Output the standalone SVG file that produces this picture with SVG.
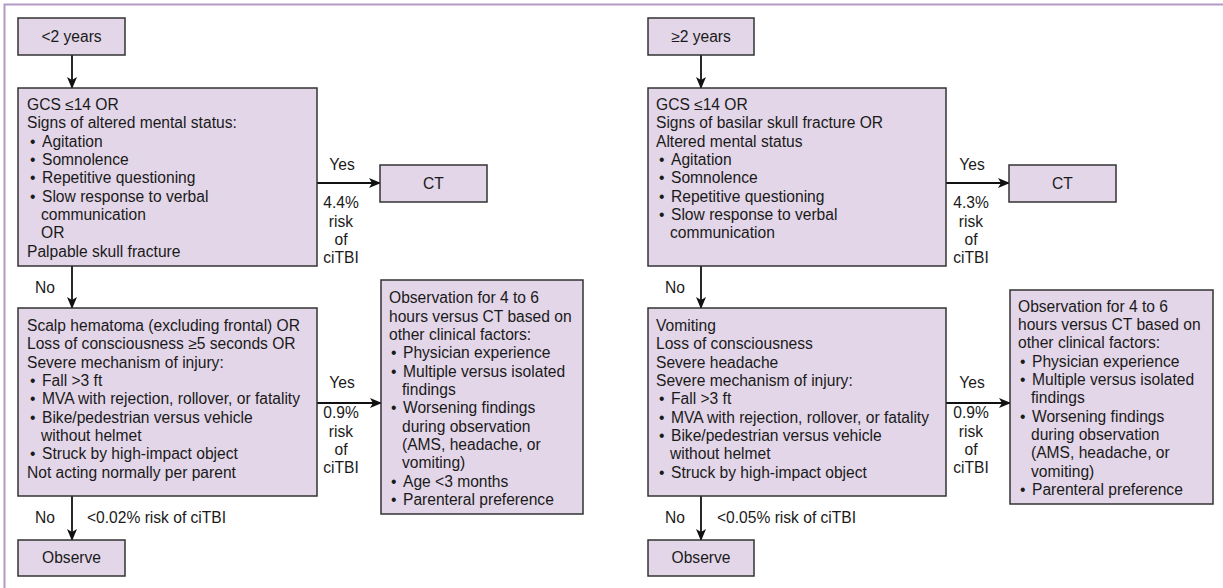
<svg xmlns="http://www.w3.org/2000/svg" width="1223" height="588" viewBox="0 0 1223 588">
<style>
.frame{stroke:#b49ac6;stroke-width:2;fill:none}
.box{fill:#e3d6e8;stroke:#333;stroke-width:1.5}
.t{font-family:"Liberation Sans",Arial,sans-serif;font-size:15.6px;fill:#1a1a1a}
.c{text-anchor:middle}
.ln{stroke:#111;stroke-width:1.8;fill:none}
</style>
<defs>
<marker id="ah" markerUnits="userSpaceOnUse" markerWidth="12" markerHeight="12" viewBox="0 0 12 12" refX="11" refY="6" orient="auto">
<path d="M0,1 L12,6 L0,11 L3,6 Z" fill="#111"/>
</marker>
</defs>
<rect width="1223" height="588" fill="#fff"/>
<path class="frame" d="M4.5,588 V4.5 H1223"/>

<g id="connectors">
<line class="ln" x1="72" y1="55" x2="72" y2="88" marker-end="url(#ah)"/>
<line class="ln" x1="317" y1="183" x2="380" y2="183" marker-end="url(#ah)"/>
<line class="ln" x1="72" y1="266" x2="72" y2="308" marker-end="url(#ah)"/>
<line class="ln" x1="317" y1="403" x2="381" y2="403" marker-end="url(#ah)"/>
<line class="ln" x1="72" y1="496" x2="72" y2="540" marker-end="url(#ah)"/>
<text class="t c" x="342" y="170">Yes</text>
<text class="t c" x="341" y="208.3">4.4%</text>
<text class="t c" x="341" y="226.7">risk</text>
<text class="t c" x="341" y="245">of</text>
<text class="t c" x="341" y="263.3">ciTBI</text>
<text class="t" x="35" y="292.7">No</text>
<text class="t c" x="342" y="388">Yes</text>
<text class="t c" x="341" y="418.3">0.9%</text>
<text class="t c" x="341" y="436.7">risk</text>
<text class="t c" x="341" y="455">of</text>
<text class="t c" x="341" y="473.3">ciTBI</text>
<text class="t" x="35" y="523.3">No</text>
<text class="t" x="87" y="523.3">&lt;0.02% risk of ciTBI</text>

<line class="ln" x1="701" y1="55" x2="701" y2="88" marker-end="url(#ah)"/>
<line class="ln" x1="946" y1="183" x2="1009" y2="183" marker-end="url(#ah)"/>
<line class="ln" x1="701" y1="266" x2="701" y2="308" marker-end="url(#ah)"/>
<line class="ln" x1="946" y1="403" x2="1010" y2="403" marker-end="url(#ah)"/>
<line class="ln" x1="701" y1="496" x2="701" y2="540" marker-end="url(#ah)"/>
<text class="t c" x="972" y="170">Yes</text>
<text class="t c" x="971" y="208.3">4.3%</text>
<text class="t c" x="971" y="226.7">risk</text>
<text class="t c" x="971" y="245">of</text>
<text class="t c" x="971" y="263.3">ciTBI</text>
<text class="t" x="665" y="292.7">No</text>
<text class="t c" x="972" y="388">Yes</text>
<text class="t c" x="971" y="418.3">0.9%</text>
<text class="t c" x="971" y="436.7">risk</text>
<text class="t c" x="971" y="455">of</text>
<text class="t c" x="971" y="473.3">ciTBI</text>
<text class="t" x="665" y="523.3">No</text>
<text class="t" x="717" y="523.3">&lt;0.05% risk of ciTBI</text>
</g>

<g id="left-age">
<rect class="box" x="18" y="18" width="107" height="37"/>
<text class="t c" x="71.5" y="41.5">&lt;2 years</text>
</g>

<g id="left-gcs">
<rect class="box" x="18" y="88" width="299" height="178"/>
<text class="t" x="27" y="110">GCS ≤14 OR</text>
<text class="t" x="27" y="128.3">Signs of altered mental status:</text>
<text class="t" x="30" y="146.7">•</text><text class="t" x="42" y="146.7">Agitation</text>
<text class="t" x="30" y="165">•</text><text class="t" x="42" y="165">Somnolence</text>
<text class="t" x="30" y="183.3">•</text><text class="t" x="42" y="183.3">Repetitive questioning</text>
<text class="t" x="30" y="201.7">•</text><text class="t" x="42" y="201.7">Slow response to verbal</text>
<text class="t" x="41" y="220">communication</text>
<text class="t" x="41" y="238.3">OR</text>
<text class="t" x="27" y="256.7">Palpable skull fracture</text>
</g>

<g id="left-ct">
<rect class="box" x="380" y="165" width="107" height="37"/>
<text class="t c" x="433.5" y="189">CT</text>
</g>

<g id="left-scalp">
<rect class="box" x="18" y="308" width="299" height="188"/>
<text class="t" x="27" y="331">Scalp hematoma (excluding frontal) OR</text>
<text class="t" x="27" y="349.3">Loss of consciousness ≥5 seconds OR</text>
<text class="t" x="27" y="367.7">Severe mechanism of injury:</text>
<text class="t" x="30" y="386">•</text><text class="t" x="42" y="386">Fall &gt;3 ft</text>
<text class="t" x="30" y="404.3">•</text><text class="t" x="42" y="404.3">MVA with rejection, rollover, or fatality</text>
<text class="t" x="30" y="422.7">•</text><text class="t" x="42" y="422.7">Bike/pedestrian versus vehicle</text>
<text class="t" x="41" y="441">without helmet</text>
<text class="t" x="30" y="459.3">•</text><text class="t" x="42" y="459.3">Struck by high-impact object</text>
<text class="t" x="27" y="477.7">Not acting normally per parent</text>
</g>

<g id="left-obs">
<rect class="box" x="381" y="280" width="202" height="234"/>
<text class="t" x="389" y="303.3">Observation for 4 to 6</text>
<text class="t" x="389" y="321.7">hours versus CT based on</text>
<text class="t" x="389" y="340">other clinical factors:</text>
<text class="t" x="391" y="358.3">•</text><text class="t" x="403" y="358.3">Physician experience</text>
<text class="t" x="391" y="376.7">•</text><text class="t" x="403" y="376.7">Multiple versus isolated</text>
<text class="t" x="402" y="395">findings</text>
<text class="t" x="391" y="413.3">•</text><text class="t" x="403" y="413.3">Worsening findings</text>
<text class="t" x="402" y="431.7">during observation</text>
<text class="t" x="402" y="450">(AMS, headache, or</text>
<text class="t" x="402" y="468.3">vomiting)</text>
<text class="t" x="391" y="486.7">•</text><text class="t" x="403" y="486.7">Age &lt;3 months</text>
<text class="t" x="391" y="505">•</text><text class="t" x="403" y="505">Parenteral preference</text>
</g>

<g id="left-observe">
<rect class="box" x="18" y="540" width="107" height="36"/>
<text class="t c" x="71.5" y="563">Observe</text>
</g>

<g id="right-age">
<rect class="box" x="648" y="18" width="106" height="37"/>
<text class="t c" x="701" y="41.5">≥2 years</text>
</g>

<g id="right-gcs">
<rect class="box" x="648" y="88" width="298" height="178"/>
<text class="t" x="656" y="110">GCS ≤14 OR</text>
<text class="t" x="656" y="128.3">Signs of basilar skull fracture OR</text>
<text class="t" x="656" y="146.7">Altered mental status</text>
<text class="t" x="659" y="165">•</text><text class="t" x="671" y="165">Agitation</text>
<text class="t" x="659" y="183.3">•</text><text class="t" x="671" y="183.3">Somnolence</text>
<text class="t" x="659" y="201.7">•</text><text class="t" x="671" y="201.7">Repetitive questioning</text>
<text class="t" x="659" y="220">•</text><text class="t" x="671" y="220">Slow response to verbal</text>
<text class="t" x="670" y="238.3">communication</text>
</g>

<g id="right-ct">
<rect class="box" x="1009" y="165" width="107" height="37"/>
<text class="t c" x="1062.5" y="189">CT</text>
</g>

<g id="right-vomit">
<rect class="box" x="648" y="308" width="298" height="188"/>
<text class="t" x="656" y="331">Vomiting</text>
<text class="t" x="656" y="349.3">Loss of consciousness</text>
<text class="t" x="656" y="367.7">Severe headache</text>
<text class="t" x="656" y="386">Severe mechanism of injury:</text>
<text class="t" x="659" y="404.3">•</text><text class="t" x="671" y="404.3">Fall &gt;3 ft</text>
<text class="t" x="659" y="422.7">•</text><text class="t" x="671" y="422.7">MVA with rejection, rollover, or fatality</text>
<text class="t" x="659" y="441">•</text><text class="t" x="671" y="441">Bike/pedestrian versus vehicle</text>
<text class="t" x="670" y="459.3">without helmet</text>
<text class="t" x="659" y="477.7">•</text><text class="t" x="671" y="477.7">Struck by high-impact object</text>
</g>

<g id="right-obs">
<rect class="box" x="1010" y="290" width="203" height="214"/>
<text class="t" x="1018" y="311.7">Observation for 4 to 6</text>
<text class="t" x="1018" y="330">hours versus CT based on</text>
<text class="t" x="1018" y="348.3">other clinical factors:</text>
<text class="t" x="1020" y="366.7">•</text><text class="t" x="1032" y="366.7">Physician experience</text>
<text class="t" x="1020" y="385">•</text><text class="t" x="1032" y="385">Multiple versus isolated</text>
<text class="t" x="1031" y="403.3">findings</text>
<text class="t" x="1020" y="421.7">•</text><text class="t" x="1032" y="421.7">Worsening findings</text>
<text class="t" x="1031" y="440">during observation</text>
<text class="t" x="1031" y="458.3">(AMS, headache, or</text>
<text class="t" x="1031" y="476.7">vomiting)</text>
<text class="t" x="1020" y="495">•</text><text class="t" x="1032" y="495">Parenteral preference</text>
</g>

<g id="right-observe">
<rect class="box" x="648" y="540" width="106" height="36"/>
<text class="t c" x="701" y="563">Observe</text>
</g>
</svg>
